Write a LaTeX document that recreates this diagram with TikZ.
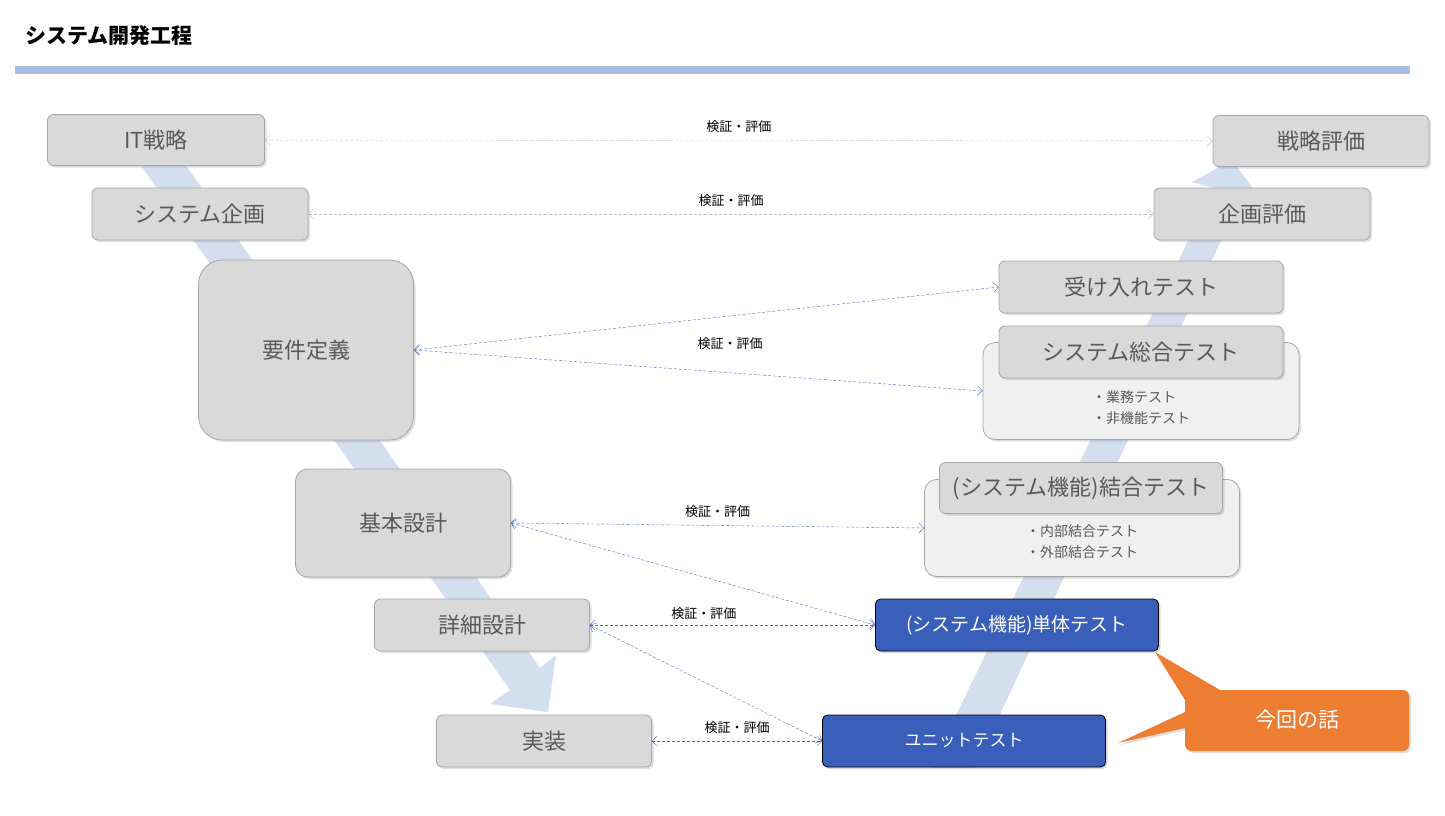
\documentclass[tikz,border=0pt]{standalone}
\usepackage{fontspec}
\setmainfont{Noto Sans CJK JP}
\usepackage{tikz}
\usetikzlibrary{arrows.meta,positioning,shadows}

\definecolor{boxgray}{HTML}{D9D9D9}
\definecolor{boxline}{HTML}{A6A6A6}
\definecolor{txtgray}{HTML}{595959}
\definecolor{bandblue}{HTML}{D3DEEF}
\definecolor{linkblue}{HTML}{4A69B5}
\definecolor{testblue}{HTML}{3A5FBA}
\definecolor{calloutorange}{HTML}{ED7D31}
\definecolor{rulerblue}{HTML}{A9BEE2}

\begin{document}
\begin{tikzpicture}[
    x=1pt, y=-1pt,
    phase/.style={rectangle, rounded corners=6pt, draw=boxline, thick, fill=boxgray,
        text=txtgray, font=\fontsize{22}{24}\selectfont,
        drop shadow={opacity=0.25, shadow xshift=2pt, shadow yshift=-2pt}},
    panel/.style={rectangle, rounded corners=12pt, draw=boxline, thick, fill=gray!12,
        drop shadow={opacity=0.25, shadow xshift=2pt, shadow yshift=-2pt}},
    unit/.style={rectangle, rounded corners=5pt, draw=black, thick, fill=testblue,
        text=white, minimum width=283pt, minimum height=52pt,
        drop shadow={opacity=0.3, shadow xshift=2pt, shadow yshift=-2pt}},
    link/.style={densely dashed, draw=linkblue, {Straight Barb[length=5pt]}-{Straight Barb[length=5pt]}},
    glink/.style={densely dashed, draw=gray!50, {Straight Barb[length=5pt]}-{Straight Barb[length=5pt]}},
    lbl/.style={font=\fontsize{13}{14}\selectfont, text=black}
]
    \useasboundingbox (0,0) rectangle (1445,815);

    % Title
    \node[anchor=west, font=\fontsize{21}{24}\selectfont\bfseries] (title) at (22,36) {システム開発工程};
    \draw[rulerblue, line width=8pt] (15,70) -- (1410,70);

    % V-shaped bands
    \fill[bandblue] (130,150) -- (175,150) -- (540,668) -- (556,655) -- (548,712) -- (490,704) -- (510,690) -- cycle;
    \fill[bandblue] (930,768) -- (975,768) -- (1240,200) -- (1262,200) -- (1232,160) -- (1192,182) -- (1214,188) -- cycle;

    % Left side
    \node[phase, minimum width=217pt, minimum height=51pt] (strategy) at (156,140) {IT戦略};
    \node[phase, minimum width=216pt, minimum height=52pt] (planning) at (200,214) {システム企画};
    \node[phase, rounded corners=24pt, minimum width=215pt, minimum height=180pt] (requirements) at (306,350) {要件定義};
    \node[phase, rounded corners=12pt, minimum width=215pt, minimum height=108pt] (basic) at (403,523) {基本設計};
    \node[phase, minimum width=215pt, minimum height=52pt] (detail) at (482,625) {詳細設計};
    \node[phase, minimum width=215pt, minimum height=52pt] (impl) at (544,741) {実装};

    % Right side
    \node[phase, minimum width=216pt, minimum height=51pt] (strateval) at (1321,141) {戦略評価};
    \node[phase, minimum width=216pt, minimum height=52pt] (planeval) at (1262,214) {企画評価};
    \node[phase, minimum width=284pt, minimum height=52pt] (acceptance) at (1141,287) {受け入れテスト};
    \node[panel, minimum width=316pt, minimum height=97pt] (systempanel) at (1141,391) {};
    \node[phase, minimum width=284pt, minimum height=52pt] (systemtest) at (1141,352) {システム総合テスト};
    \node[text=txtgray, align=left, font=\fontsize{14}{21}\selectfont] (systemitems) at (1141,408) {・業務テスト\\・非機能テスト};
    \node[panel, minimum width=315pt, minimum height=97pt] (integpanel) at (1082,528) {};
    \node[phase, minimum width=283pt, minimum height=51pt] (integtest) at (1081,488) {(システム機能)結合テスト};
    \node[text=txtgray, align=left, font=\fontsize{14}{21}\selectfont] (integitems) at (1082,542) {・内部結合テスト\\・外部結合テスト};
    \node[unit, font=\fontsize{19}{22}\selectfont] (functest) at (1017,625) {(システム機能)単体テスト};
    \node[unit, font=\fontsize{17}{20}\selectfont] (unittest) at (964,741) {ユニットテスト};

    % Callout
    \fill[calloutorange, drop shadow={opacity=0.25, shadow xshift=2pt, shadow yshift=-2pt}]
        (1192,690) -- (1403,690) to[out=0,in=90] (1409,696) -- (1409,745) to[out=-90,in=0] (1403,751)
        -- (1192,751) to[out=180,in=-90] (1185,745) -- (1185,728) -- (1118,743) -- (1185,712)
        -- (1185,700) -- (1155,652) -- (1220,690) -- cycle;
    \node[text=white, font=\fontsize{21}{24}\selectfont] (callout) at (1297,720) {今回の話};

    % Verification links
    \draw[glink] (strategy) -- (strateval) node[midway, above=4pt, lbl] {検証・評価};
    \draw[glink] (planning) -- (planeval) node[midway, above=4pt, lbl] {検証・評価};
    \draw[link] (requirements.east) -- (acceptance.west);
    \draw[link] (requirements.east) -- (systempanel.west);
    \node[lbl] (reqlabel) at (730,344) {検証・評価};
    \draw[link] (basic.east) -- (integpanel.west) node[midway, above=4pt, lbl] {検証・評価};
    \draw[link] (basic.east) -- (functest.west);
    \draw[link] (detail) -- (functest) node[pos=0.4, above=2pt, lbl] {検証・評価};
    \draw[link] (detail.east) -- (unittest.west);
    \draw[link] (impl) -- (unittest) node[midway, above=4pt, lbl] {検証・評価};
\end{tikzpicture}
\end{document}
